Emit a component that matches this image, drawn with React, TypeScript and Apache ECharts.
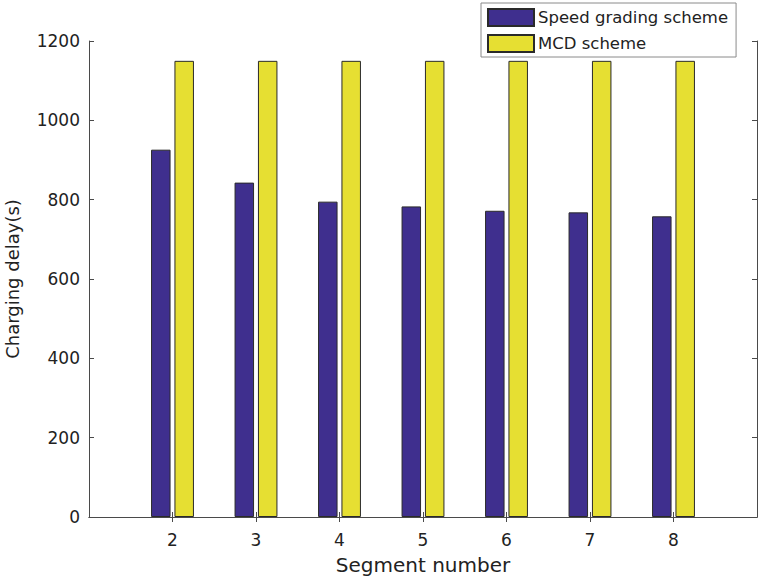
import React, { useEffect, useRef } from "react";
import * as echarts from "echarts";

const categories = ["1", "2", "3", "4", "5", "6", "7", "8", "9"];
const speedGrading = [null, 926, 843, 795, 783, 772, 768, 758, null];
const mcdScheme = [null, 1150, 1150, 1150, 1150, 1150, 1150, 1150, null];
const seriesNames = ["Speed grading scheme", "MCD scheme"];
const yMin = 0;
const yMax = 1200;
const yInterval = 200;

const FONT = "DejaVu Sans";
const AXIS_COLOR = "#4a4a4a";

export default function App() {
  const ref = useRef<HTMLDivElement>(null);
  useEffect(() => {
    if (!ref.current) return;
    const chart = echarts.init(ref.current, undefined, { renderer: "svg" });
    const showInner = (i: number) => i > 0 && i < categories.length - 1;
    const xCommon = {
      type: "category" as const,
      data: categories,
      boundaryGap: false,
      axisLine: { show: true, lineStyle: { color: AXIS_COLOR, width: 1 } },
      axisTick: { show: true, inside: true, length: 5, interval: (i: number) => showInner(i), lineStyle: { color: AXIS_COLOR } },
      splitLine: { show: false },
    };
    const yCommon = {
      type: "value" as const,
      min: yMin,
      max: yMax,
      interval: yInterval,
      axisLine: { show: true, lineStyle: { color: AXIS_COLOR, width: 1 } },
      axisTick: { show: true, inside: true, length: 5, lineStyle: { color: AXIS_COLOR } },
      splitLine: { show: false },
    };
    chart.setOption({
      animation: false,
      backgroundColor: "#ffffff",
      textStyle: { fontFamily: FONT },
      grid: { left: 89, right: 2, top: 41, bottom: 65, containLabel: false, outerBoundsMode: "none" },
      legend: {
        orient: "vertical",
        left: 481,
        top: 3,
        padding: [5, 8, 4, 6],
        itemGap: 7,
        itemWidth: 46,
        itemHeight: 17,
        icon: "rect",
        backgroundColor: "#ffffff",
        borderColor: "#8a8a8a",
        borderWidth: 1,
        textStyle: { fontFamily: FONT, fontSize: 16.5, color: "#222222", padding: [0, 0, 0, -1] },
        data: seriesNames,
      },
      xAxis: [
        {
          ...xCommon,
          position: "bottom",
          name: "Segment number",
          nameLocation: "middle",
          nameGap: 38,
          nameTextStyle: { fontFamily: FONT, fontSize: 20, color: "#222222" },
          axisLabel: {
            show: true,
            interval: (i: number) => showInner(i),
            margin: 14,
            fontFamily: FONT,
            fontSize: 17,
            color: "#222222",
          },
        },
        {
          ...xCommon,
          position: "top",
          axisLabel: { show: false },
        },
      ],
      yAxis: [
        {
          ...yCommon,
          position: "left",
          name: "Charging delay(s)",
          nameLocation: "middle",
          nameGap: 68,
          nameTextStyle: { fontFamily: FONT, fontSize: 18, color: "#222222" },
          axisLabel: {
            show: true,
            margin: 9,
            fontFamily: FONT,
            fontSize: 17,
            color: "#222222",
            formatter: (v: number) => String(v),
          },
        },
        {
          ...yCommon,
          position: "right",
          axisLabel: { show: false },
        },
      ],
      series: [
        {
          name: seriesNames[0],
          type: "bar",
          xAxisIndex: 0,
          yAxisIndex: 0,
          data: speedGrading,
          barWidth: 19.5,
          barGap: "20%",
          itemStyle: { color: "#3f2f8e", borderColor: "#2a2a2a", borderWidth: 1 },
        },
        {
          name: seriesNames[1],
          type: "bar",
          xAxisIndex: 0,
          yAxisIndex: 0,
          data: mcdScheme,
          barWidth: 19.5,
          barGap: "20%",
          itemStyle: { color: "#e6df32", borderColor: "#2a2a2a", borderWidth: 1 },
        },
      ],
    });
    return () => chart.dispose();
  }, []);
  return (
    <div
      ref={ref}
      style={{ position: "fixed", left: 0, top: 0, width: 759, height: 582 }}
    />
  );
}
